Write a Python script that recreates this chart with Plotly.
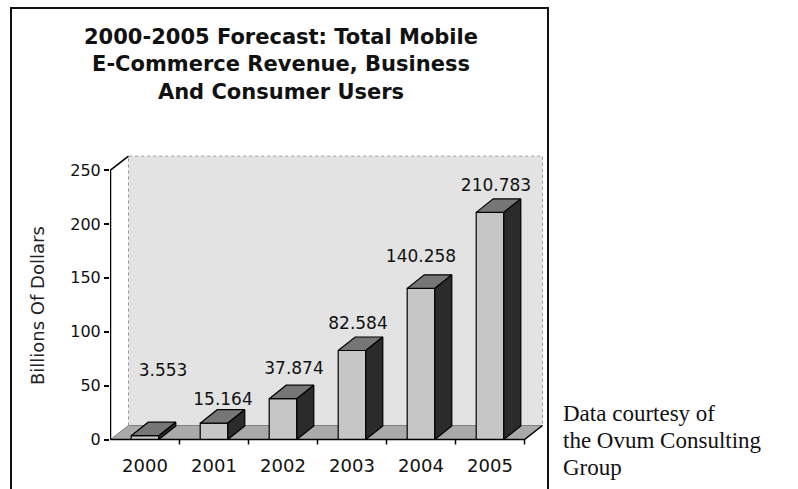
import plotly.graph_objects as go

# ---- data -------------------------------------------------------------
years = ["2000", "2001", "2002", "2003", "2004", "2005"]
revenue = [3.553, 15.164, 37.874, 82.584, 140.258, 210.783]   # billions of dollars
y_ticks = [0, 50, 100, 150, 200, 250]

# value-label nudges in pixels (right, up from the front top edge)
label_dx_px = [18, 9, 11, 6, 0, 6]
label_dy_px = [64, 22, 29, 26, 31, 26]

# ---- geometry -----------------------------------------------------------
W, H = 798, 489
L_PX, R_PX, T_PX, B_PX = 110, 546, 150, 448   # plot-area edges in pixels
CAT_PX = 69.0                                  # pixels per category
Y0_PX = 439.5                                  # pixel row of value 0
Y_PX = 1.0775                                  # pixels per billion
WALL_DX_PX, WALL_DY_PX = 18, 14                # depth of floor / back wall
BAR_DX_PX, BAR_DY_PX = 17, 13.5                # depth of each bar
BAR_W = 0.40                                   # front face width (category units)

PW, PH = R_PX - L_PX, B_PX - T_PX
x_lo = -0.5 - 0.5 / CAT_PX
x_hi = x_lo + PW / CAT_PX
y_lo = -(B_PX - Y0_PX) / Y_PX
y_hi = (Y0_PX - T_PX) / Y_PX

wdx, wdy = WALL_DX_PX / CAT_PX, WALL_DY_PX / Y_PX
bdx, bdy = BAR_DX_PX / CAT_PX, BAR_DY_PX / Y_PX
n = len(years)
y_top = y_ticks[-1]


def px_x(px):
    return (px - L_PX) / PW


def px_y(py):
    return (B_PX - py) / PH


def poly(xs, ys, fill, line_color="black", width=1.2, dash="solid"):
    return go.Scatter(
        x=xs + [xs[0]], y=ys + [ys[0]], mode="lines", fill="toself",
        fillcolor=fill, line=dict(color=line_color, width=width, dash=dash),
        hoverinfo="skip", showlegend=False,
    )


fig = go.Figure()

# back wall
x_l, x_r = -0.5 + wdx, (n - 0.5) + wdx
fig.add_trace(poly([x_l, x_l, x_r, x_r], [wdy, y_top + wdy, y_top + wdy, wdy],
                   "#e3e3e3", line_color="#9a9a9a", width=1, dash="dot"))

# floor
fig.add_trace(poly([-0.5, n - 0.5, n - 0.5 + wdx, -0.5 + wdx], [0, 0, wdy, wdy],
                   "#aaaaaa", line_color="#808080", width=1))

# value labels (drawn before the bars so the boxes sit over them)
fig.add_trace(go.Scatter(
    x=[i + label_dx_px[i] / CAT_PX for i in range(n)],
    y=[v + label_dy_px[i] / Y_PX for i, v in enumerate(revenue)],
    mode="text", text=[f"{v:.3f}" for v in revenue], textposition="middle center",
    textfont=dict(family="DejaVu Sans", size=17, color="#111111"),
    hoverinfo="skip", showlegend=False, cliponaxis=False,
))

# 3-D bars: front, top and side faces
h = BAR_W / 2
for i, v in enumerate(revenue):
    fig.add_trace(poly([i - h, i + h, i + h, i - h], [0, 0, v, v], "#c6c6c6"))
    fig.add_trace(poly([i - h, i + h, i + h + bdx, i - h + bdx],
                       [v, v, v + bdy, v + bdy], "#767676"))
    fig.add_trace(poly([i + h, i + h + bdx, i + h + bdx, i + h],
                       [0, bdy, v + bdy, v], "#2b2b2b"))

# value axis line with its slant to the back wall
fig.add_trace(go.Scatter(
    x=[-0.5, -0.5, -0.5 + wdx], y=[0, y_top, y_top + wdy], mode="lines",
    line=dict(color="black", width=1.5), hoverinfo="skip", showlegend=False,
))
# category axis: front floor edge, right slant and tick marks
tick_x, tick_y = [], []
for k in range(1, n + 1):
    tick_x += [k - 0.5, k - 0.5, None]
    tick_y += [0, -5 / Y_PX, None]
fig.add_trace(go.Scatter(
    x=[-0.5, n - 0.5, n - 0.5 + wdx, None] + tick_x,
    y=[0, 0, wdy, None] + tick_y, mode="lines",
    line=dict(color="black", width=1.5), hoverinfo="skip", showlegend=False,
))

fig.update_layout(
    width=W, height=H,
    margin=dict(l=L_PX, r=W - R_PX, t=T_PX, b=H - B_PX, pad=0),
    paper_bgcolor="white", plot_bgcolor="rgba(0,0,0,0)",
    font=dict(family="DejaVu Sans", color="#111111"),
    showlegend=False,
    xaxis=dict(
        range=[x_lo, x_hi], tickmode="array", tickvals=list(range(n)), ticktext=years,
        ticks="", ticklabelstandoff=5, showgrid=False, zeroline=False, showline=False,
        tickfont=dict(family="DejaVu Sans", size=18, color="#111111"),
        fixedrange=True,
    ),
    yaxis=dict(
        range=[y_lo, y_hi], tickmode="array", tickvals=y_ticks,
        ticks="outside", ticklen=5, tickwidth=1.5, tickcolor="black",
        showgrid=False, zeroline=False, showline=False,
        tickfont=dict(family="DejaVu Sans", size=16, color="#111111"),
        fixedrange=True,
    ),
    shapes=[
        # frame round the chart (open at the bottom)
        dict(type="path", xref="paper", yref="paper",
             path=(f"M {px_x(11)},{px_y(500)} L {px_x(11)},{px_y(8)} "
                   f"L {px_x(548)},{px_y(8)} L {px_x(548)},{px_y(500)}"),
             line=dict(color="#111111", width=2)),
    ],
    annotations=[
        dict(text="2000-2005 Forecast: Total Mobile<br>E-Commerce Revenue, Business<br>And Consumer Users",
             xref="paper", yref="paper", x=px_x(281), y=px_y(65),
             xanchor="center", yanchor="middle", showarrow=False,
             font=dict(family="DejaVu Sans", size=21, color="#111111", weight="bold")),
        dict(text="Billions Of Dollars", textangle=-90,
             xref="paper", yref="paper", x=px_x(37), y=px_y(306),
             xanchor="center", yanchor="middle", showarrow=False,
             font=dict(family="DejaVu Sans", size=18, color="#222222")),
        dict(text="Data courtesy of", xref="paper", yref="paper",
             x=px_x(561), y=px_y(413), xanchor="left", yanchor="middle", showarrow=False,
             font=dict(family="Liberation Serif", size=23, color="#111111")),
        dict(text="the Ovum Consulting", xref="paper", yref="paper",
             x=px_x(561), y=px_y(440), xanchor="left", yanchor="middle", showarrow=False,
             font=dict(family="Liberation Serif", size=23, color="#111111")),
        dict(text="Group", xref="paper", yref="paper",
             x=px_x(561), y=px_y(467), xanchor="left", yanchor="middle", showarrow=False,
             font=dict(family="Liberation Serif", size=23, color="#111111")),
    ],
)

fig.write_html("out.html", config={"displayModeBar": False})
